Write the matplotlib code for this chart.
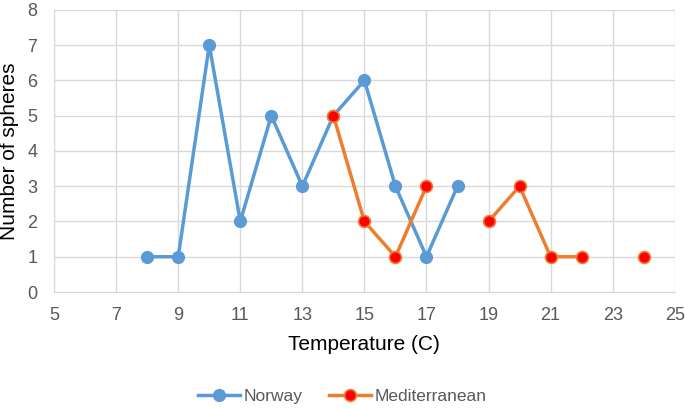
import numpy as np
import matplotlib
matplotlib.use("Agg")
import matplotlib.pyplot as plt

plt.rcParams['font.family'] = ['Liberation Sans', 'DejaVu Sans']

norway_x = [8, 9, 10, 11, 12, 13, 14, 15, 16, 17, 18]
norway_y = [1, 1, 7, 2, 5, 3, 5, 6, 3, 1, 3]

med_x = [14, 15, 16, 17, 18, 19, 20, 21, 22, 23, 24]
med_y = [5, 2, 1, 3, np.nan, 2, 3, 1, 1, np.nan, 1]

xticks = [5, 7, 9, 11, 13, 15, 17, 19, 21, 23, 25]
yticks = [0, 1, 2, 3, 4, 5, 6, 7, 8]

fig = plt.figure(figsize=(6.85, 4.09), dpi=100)
ax = fig.add_axes([0.079, 0.286, 0.906, 0.690])

blue = '#5B9BD5'
orange = '#ED7D31'

ax.plot(norway_x, norway_y, color=blue, lw=2.5, marker='o', markersize=8.5,
        markerfacecolor=blue, markeredgecolor=blue, label='Norway', zorder=3)
ax.plot(med_x, med_y, color=orange, lw=2.5, marker='o', markersize=8.5,
        markerfacecolor='#FF0000', markeredgecolor=orange, markeredgewidth=1.2,
        label='Mediterranean', zorder=4)

ax.set_xlim(5, 25)
ax.set_ylim(0, 8)
ax.set_xticks(xticks)
ax.set_yticks(yticks)
ax.grid(True, color='#D9D9D9', lw=1)
ax.set_axisbelow(True)
for s in ['top', 'right']:
    ax.spines[s].set_visible(False)
for s in ['left', 'bottom']:
    ax.spines[s].set_color('#D9D9D9')
ax.tick_params(axis='x', length=0, labelsize=13, colors='#595959', pad=11)
ax.tick_params(axis='y', length=0, labelsize=13, colors='#595959', pad=12)
ax.set_xlabel('Temperature (C)', fontsize=15, color='black', labelpad=8)
ax.set_ylabel('Number of spheres', fontsize=15, color='black', labelpad=6)

handles, labels = ax.get_legend_handles_labels()
fig.legend(handles, labels, loc='center', bbox_to_anchor=(0.5, 0.03), ncol=2,
           frameon=False, fontsize=12.5, labelcolor='#595959', handlelength=2.4,
           columnspacing=1.5, handletextpad=0.25)

fig.savefig('out.png', dpi=100)
